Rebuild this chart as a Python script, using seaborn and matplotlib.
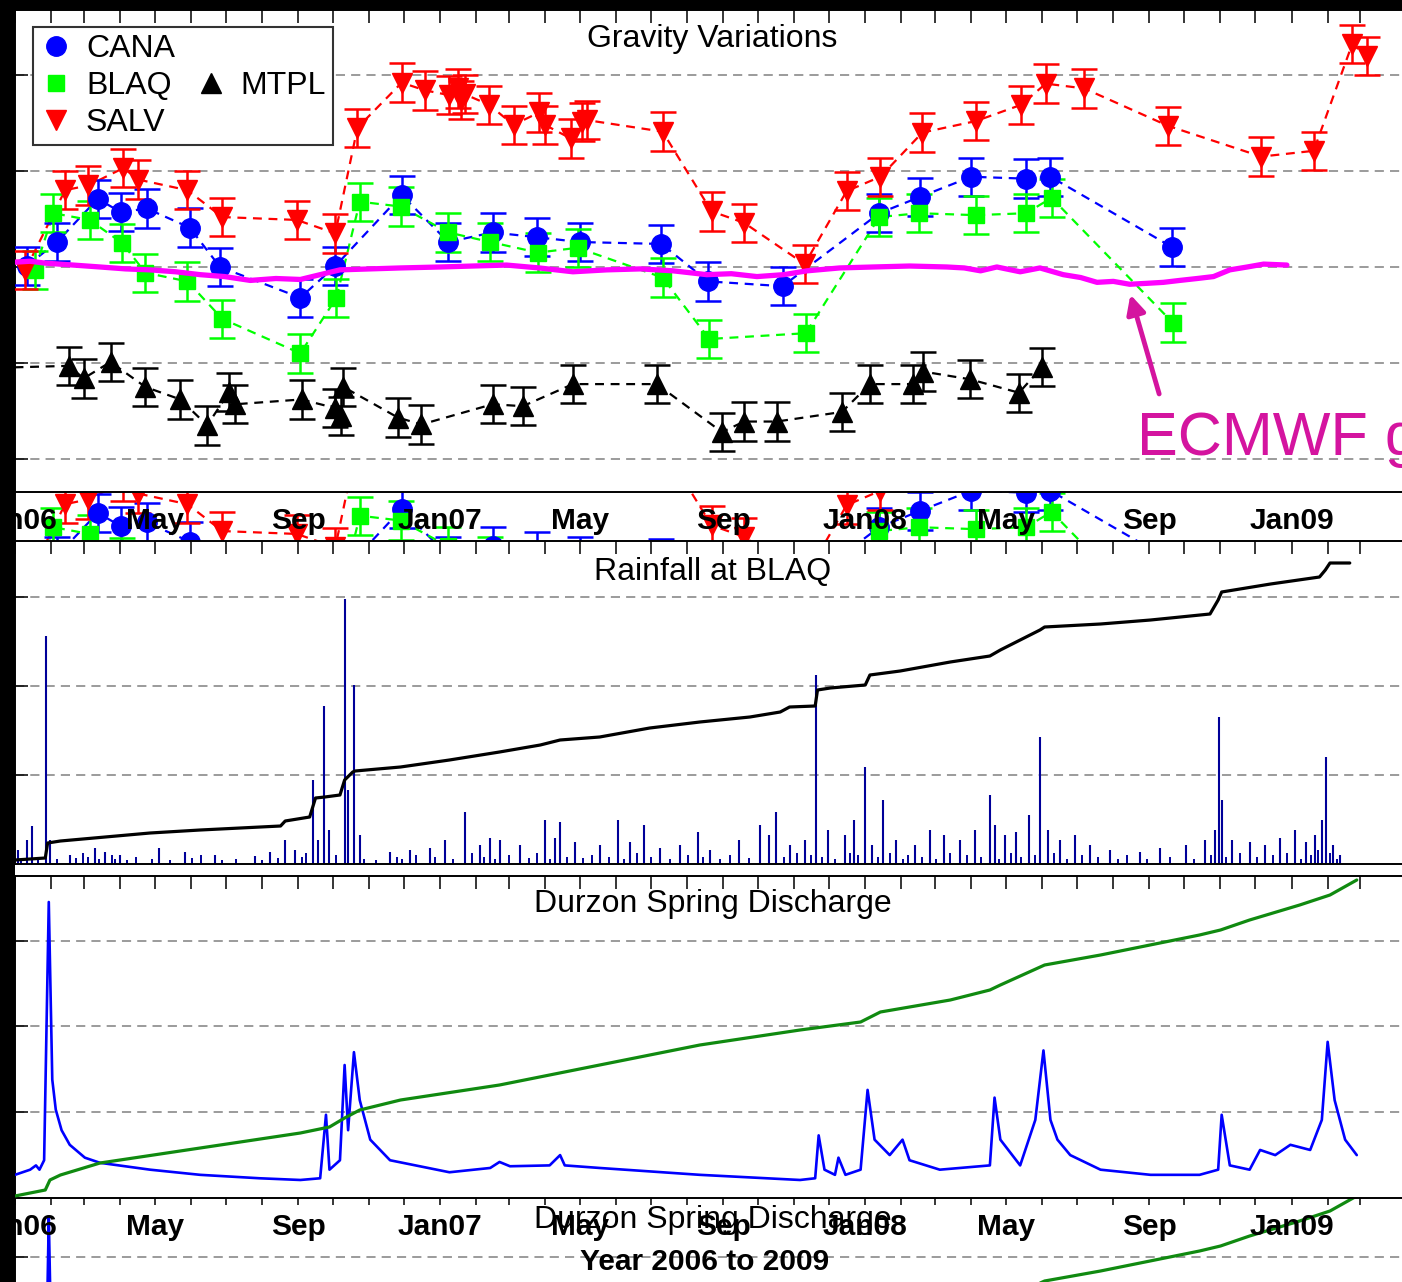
import numpy as np
import pandas as pd
import matplotlib
matplotlib.use('Agg')
import matplotlib.pyplot as plt
import matplotlib.patches as mpatches
from matplotlib.lines import Line2D
import seaborn as sns

sns.set_style('white')
plt.rcParams['font.family'] = ['Liberation Sans', 'DejaVu Sans']
plt.rcParams['text.color'] = 'black'

# time axis: days since 2006-01-01

# gravity (microGal)
cana_day = [10, 36, 71, 91, 113, 150, 176, 245, 275, 332, 372, 410, 448, 485, 555, 595, 659, 742, 777, 821, 868, 889, 993]
cana_val = [0.1, 2.6, 7.1, 5.7, 6.1, 4.1, 0.0, -3.2, 0.1, 7.5, 2.6, 3.6, 3.1, 2.6, 2.4, -1.5, -2.0, 5.6, 7.3, 9.4, 9.2, 9.4, 2.1]

blaq_day = [17, 33, 64, 92, 112, 148, 178, 245, 276, 296, 331, 372, 408, 449, 483, 556, 596, 679, 742, 776, 825, 868, 890, 994]
blaq_val = [-0.3, 5.6, 4.9, 2.5, -0.6, -1.5, -5.4, -9.0, -3.2, 6.8, 6.3, 3.6, 2.6, 1.5, 2.0, -1.1, -7.5, -6.9, 5.2, 5.6, 5.4, 5.6, 7.2, -5.8]

mtpl_day = [-15, 46, 59, 82, 112, 142, 165, 184, 189, 246, 275, 280, 282, 329, 349, 410, 436, 479, 551, 607, 626, 654, 710, 734, 771, 780, 820, 862, 882]
mtpl_val = [-10.5, -10.3, -11.6, -9.9, -12.5, -13.8, -16.5, -13.0, -14.3, -13.8, -14.7, -15.5, -12.5, -15.7, -16.4, -14.3, -14.5, -12.2, -12.2, -17.2, -16.1, -16.1, -15.1, -12.2, -12.2, -10.9, -11.7, -13.1, -10.4]

salv_day = [9, 43, 63, 93, 106, 148, 178, 242, 275, 294, 332, 352, 373, 380, 383, 386, 407, 428, 450, 455, 477, 487, 491, 556, 598, 626, 678, 714, 743, 779, 825, 864, 885, 918, 990, 1070, 1115, 1148, 1161]
salv_val = [-0.3, 8.0, 8.5, 10.3, 9.1, 8.0, 5.2, 4.9, 3.5, 14.5, 19.2, 18.4, 17.9, 18.6, 17.4, 18.0, 16.9, 14.8, 16.1, 14.8, 13.4, 15.1, 15.3, 14.1, 5.8, 4.6, 0.3, 7.9, 9.4, 14.0, 15.2, 16.9, 19.1, 18.6, 14.7, 11.5, 12.1, 23.2, 22.0]
grav_err = 2.0

ecmwf_day = [0, 13, 26, 50, 73, 95, 116, 138, 159, 180, 202, 224, 245, 262, 279, 305, 331, 365, 393, 422, 450, 479, 508, 537, 565, 594, 615, 637, 660, 680, 708, 737, 768, 800, 815, 829, 843, 855, 863, 880, 900, 915, 929, 943, 957, 972, 986, 1000, 1015, 1029, 1043, 1058, 1072, 1092]
ecmwf_val = [0.5, 0.6, 0.4, 0.2, 0.0, -0.2, -0.3, -0.5, -0.8, -1.0, -1.4, -1.2, -1.3, -0.8, -0.3, -0.2, -0.1, 0.0, 0.1, 0.2, -0.1, -0.5, -0.3, -0.2, -0.4, -0.8, -0.7, -1.0, -0.8, -0.4, -0.1, 0.0, 0.1, 0.0, -0.1, -0.4, 0.0, -0.3, -0.5, -0.1, -0.8, -1.1, -1.6, -1.5, -1.8, -1.7, -1.6, -1.4, -1.2, -1.0, -0.3, 0.0, 0.3, 0.2]

# rainfall at BLAQ (mm/day) and cumulative rainfall (mm)
rain_day = [3, 10, 15, 27, 30, 47, 69, 77, 90, 124, 146, 172, 206, 219, 232, 240, 256, 260, 265, 270,
            283, 286, 291, 296, 322, 339, 356, 369, 386, 399, 408, 416, 434, 455, 464, 468, 481, 502, 518, 528,
            540, 554, 571, 586, 597, 622, 640, 647, 653, 665, 678, 688, 698, 713, 720, 730, 736, 745, 756, 773,
            786, 798, 811, 824, 837, 841, 850, 859, 871, 880, 887, 897, 910, 923, 940, 966, 983, 1005, 1022, 1030,
            1034, 1036, 1045, 1060, 1073, 1086, 1099, 1108, 1116, 1122, 1126, 1132, 1138]
rain_mm = [7.9, 13.5, 21.4, 128, 13.5, 5, 9, 6.7, 5, 9, 6.7, 5, 4.5, 6.7, 13.5, 7.9, 47, 13.5, 89, 19,
           149, 41.6, 100.6, 16.3, 6.7, 7.9, 9, 13.5, 29, 10.7, 14.6, 13.5, 10.7, 24.7, 14.6, 23.6, 12.4, 10.7, 24.7, 12.4,
           21.9, 9, 10.7, 18, 7.9, 13.5, 21.9, 16.3, 29.2, 10.7, 13.5, 106, 19, 16.3, 24.7, 54.5, 10.7, 36, 13.5, 10.7,
           19, 16.3, 13.5, 19, 38.8, 21.9, 16.3, 18, 27.5, 71.4, 19, 13.5, 16.3, 10.7, 7.9, 6.7, 9, 10.7, 13.5, 19,
           82.6, 36, 13.5, 12.4, 10.7, 14.6, 19, 12.4, 16.3, 24.7, 60, 10.7, 5]
# the many small showers along the base line
small_day = [5, 20, 36, 52, 58, 63, 72, 83, 86, 96, 104, 118, 133, 152, 160, 178, 190, 212, 226, 246,
             250, 276, 300, 310, 328, 332, 344, 361, 376, 392, 403, 412, 424, 441, 448, 459, 474, 488, 495, 510,
             523, 534, 546, 562, 578, 591, 605, 614, 630, 660, 671, 683, 693, 704, 717, 724, 741, 751, 762, 767,
             779, 791, 803, 817, 829, 845, 855, 864, 876, 892, 903, 916, 930, 947, 955, 972, 992, 1012, 1027, 1040,
             1052, 1066, 1080, 1092, 1104, 1113, 1119, 1129, 1135]
small_mm = [2.5, 4, 3, 3.5, 6, 4, 3, 5, 3, 2.5, 4, 3, 2.5, 3.5, 5, 2.5, 3, 2.5, 3.5, 4,
            6, 5, 3, 2.5, 4, 3, 5, 4, 3, 6, 4, 3, 5, 3.5, 6, 3, 4, 3.5, 5, 4,
            3, 6, 4, 3, 5, 4, 3, 5, 3.5, 4, 6, 5, 4, 3, 6, 5, 4, 6, 3, 5,
            4, 3, 6, 5, 4, 3, 6, 4, 5, 6, 3, 5, 4, 3, 5, 3, 4, 3, 5, 4,
            6, 4, 5, 6, 3, 5, 8, 6, 3]

cum_day = [0, 26, 28, 39, 116, 159, 228, 232, 253, 258, 266, 279, 283, 290, 292, 331, 373, 416, 451, 468,
           502, 545, 588, 631, 657, 665, 687, 689, 700, 730, 734, 760, 803, 837, 846, 880, 884, 932, 975, 1026,
           1033, 1036, 1078, 1120, 1125, 1129, 1146]
cum_mm = [40, 60, 210, 230, 310, 340, 380, 430, 470, 660, 670, 690, 840, 920, 930, 970, 1040, 1120, 1190, 1240,
          1270, 1360, 1420, 1470, 1520, 1570, 1580, 1740, 1760, 1790, 1890, 1930, 2020, 2080, 2140, 2340, 2370, 2400, 2440, 2500,
          2640, 2720, 2800, 2870, 2940, 3010, 3010]

# Durzon spring discharge (m3/s) and cumulative volume
q_day = [0, 13, 18, 21, 25, 29, 32, 35, 40, 47, 60, 73, 116, 159, 210, 245, 262, 267, 270, 279,
         283, 286, 291, 296, 305, 322, 373, 408, 416, 425, 459, 468, 472, 502, 588, 674, 687, 690, 695, 704,
         707, 713, 726, 732, 738, 751, 762, 768, 794, 837, 841, 846, 863, 876, 883, 889, 895, 906, 932, 975, 1017,
         1033, 1036, 1043, 1060, 1069, 1082, 1095, 1112, 1122, 1127, 1133, 1142, 1152]
q_val = [0.27, 0.33, 0.38, 0.33, 0.44, 3.45, 1.38, 1.03, 0.79, 0.62, 0.47, 0.41, 0.33, 0.27, 0.23, 0.21, 0.23, 0.97, 0.33, 0.44,
         1.55, 0.79, 1.70, 1.14, 0.68, 0.44, 0.30, 0.35, 0.42, 0.37, 0.38, 0.50, 0.38, 0.35, 0.27, 0.21, 0.23, 0.73, 0.33, 0.27,
         0.47, 0.27, 0.33, 1.26, 0.68, 0.50, 0.68, 0.44, 0.33, 0.38, 1.17, 0.68, 0.38, 0.91, 1.72, 0.91, 0.68, 0.50, 0.33, 0.27, 0.27,
         0.33, 0.97, 0.38, 0.33, 0.56, 0.50, 0.62, 0.56, 0.91, 1.82, 1.14, 0.68, 0.50]

qc_day = [0, 26, 30, 39, 73, 159, 245, 270, 283, 296, 331, 416, 502, 588, 674, 726, 743, 803, 837, 846,
          884, 932, 1017, 1035, 1060, 1103, 1129, 1152]
qc_val = [0.2, 0.8, 1.8, 2.3, 3.5, 5.0, 6.5, 7.1, 8.0, 8.8, 9.8, 11.3, 13.3, 15.3, 16.8, 17.6, 18.6, 19.8, 20.8, 21.3,
          23.3, 24.3, 26.3, 26.8, 27.8, 29.3, 30.3, 31.8]

start = pd.Timestamp('2006-01-01')
months = pd.date_range('2006-01-01', '2009-03-01', freq='MS')
tick_days = list((months - start).days)
tick_labels = [m.strftime('%b%y') if m.month == 1 else (m.strftime('%b') if m.month in (5, 9) else '') for m in months]

W, H = 1402, 1282
fig = plt.figure(figsize=(W / 100, H / 100), dpi=100, facecolor='white')
MAG = '#d4149f'


def px_axes(top, bottom, z):
    ax = fig.add_axes([15 / W, 1 - bottom / H, (1410 - 15) / W, (bottom - top) / H])
    ax.set_zorder(z)
    return ax


def style(ax, ylim, grid_vals, labels=True):
    ax.set_xlim(0, 1197.7)
    ax.set_ylim(*ylim)
    ax.set_xticks(tick_days)
    ax.set_xticklabels(tick_labels)
    ax.set_yticks(grid_vals)
    ax.tick_params(direction='in', length=9, width=1.1, top=True, right=False, left=True,
                   labelleft=False, labelbottom=labels, labelsize=21.5, pad=11, colors='black')
    for lab in ax.get_xticklabels():
        lab.set_fontweight('bold')
    ax.grid(axis='y', color='#808080', lw=1.1, linestyle=(0, (6, 4)))
    ax.set_axisbelow(True)
    for s in ax.spines.values():
        s.set_linewidth(1.4)
        s.set_color('black')


def twin(ax, ylim, z):
    t = ax.twinx()
    t.set_zorder(z)
    t.set_ylim(*ylim)
    t.tick_params(left=False, right=False, labelright=False, labelleft=False)
    for s in t.spines.values():
        s.set_visible(False)
    t.patch.set_visible(False)
    return t


def draw_gravity(ax):
    stations = [(cana_day, cana_val, 'o', '#0000ff', 14),
                (blaq_day, blaq_val, 's', '#00ff00', 12),
                (mtpl_day, mtpl_val, '^', 'black', 14),
                (salv_day, salv_val, 'v', '#ff0000', 14)]
    for d, v, m, c, ms in stations:
        sns.lineplot(x=d, y=v, ax=ax, color=c, lw=1.6, linestyle=(0, (4, 3)),
                     estimator=None, sort=False, zorder=2)
        ax.errorbar(d, v, yerr=grav_err, fmt=m, color=c, ms=ms, mec=c, mfc=c,
                    elinewidth=1.8, capsize=9.5, capthick=1.8, zorder=3)
    sns.lineplot(x=ecmwf_day, y=ecmwf_val, ax=ax, color='#ff00ff', lw=3.8,
                 estimator=None, sort=False, zorder=4)
    style(ax, (-23.44, 26.77), [-20, -10, 0, 10, 20])
    ax.text(0.5, 0.94, 'Gravity Variations', transform=ax.transAxes,
            ha='center', va='center', fontsize=23)


def draw_discharge(ax, z):
    sns.lineplot(x=q_day, y=q_val, ax=ax, color='#0000ff', lw=1.9,
                 estimator=None, sort=False, zorder=3)
    style(ax, (0, 3.753), [1, 2, 3])
    ax.text(0.5, 0.913, 'Durzon Spring Discharge', transform=ax.transAxes,
            ha='center', va='center', fontsize=23)
    t = twin(ax, (0, 32.2), z + 0.5)
    sns.lineplot(x=qc_day, y=qc_val, ax=t, color='#108a10', lw=2.3,
                 estimator=None, sort=False)
    t.set_ylim(0, 32.2)
    t.set_ylabel('')


# ghost copies peeking through the gaps between panels
ghost_g = px_axes(324, 806, 0)
draw_gravity(ghost_g)
ghost_g.tick_params(labelbottom=False)

ghost_q = px_axes(1192, 1514, 0)
draw_discharge(ghost_q, 0)
ghost_q.tick_params(labelbottom=False)

# gravity panel
ax1 = px_axes(10, 492, 1)
draw_gravity(ax1)
handles = [Line2D([], [], ls='', marker='o', color='#0000ff', ms=14),
           Line2D([], [], ls='', marker='s', color='#00ff00', ms=12),
           Line2D([], [], ls='', marker='v', color='#ff0000', ms=14),
           Line2D([], [], ls='', marker=''),
           Line2D([], [], ls='', marker='^', color='black', ms=14),
           Line2D([], [], ls='', marker='')]
leg = ax1.legend(handles, ['CANA', 'BLAQ', 'SALV', '', 'MTPL', ''], ncol=2, loc='upper left',
                 bbox_to_anchor=(0.0129, 0.9647), borderaxespad=0, frameon=True, fancybox=False,
                 fontsize=23, handlelength=1.0, handletextpad=0.44, columnspacing=0.62,
                 labelspacing=0.22, borderpad=0.22, framealpha=1)
leg.get_frame().set_edgecolor('#333333')
leg.get_frame().set_linewidth(1.5)
ax1.annotate('', xy=(957, -2.6), xytext=(983, -13.5),
             arrowprops=dict(arrowstyle='-|>', color=MAG, lw=3.5, mutation_scale=28))
ax1.text(963, -19.6, 'ECMWF g', color=MAG, fontsize=44, va='baseline', ha='left')

# rainfall panel
ax2 = px_axes(541, 864, 1)
ax2.vlines(small_day, 0, small_mm, color='#000099', lw=1.4)
ax2.vlines(rain_day, 0, rain_mm, color='#000099', lw=1.5)
style(ax2, (0, 181.5), [50, 100, 150], labels=False)
ax2.text(0.5, 0.904, 'Rainfall at BLAQ', transform=ax2.transAxes,
         ha='center', va='center', fontsize=23)
t2 = twin(ax2, (0, 3230), 1.5)
sns.lineplot(x=cum_day, y=cum_mm, ax=t2, color='black', lw=2.3, estimator=None, sort=False)
t2.set_ylim(0, 3230)
t2.set_ylabel('')

# discharge panel
ax3 = px_axes(876, 1198, 1)
draw_discharge(ax3, 1)
ax3.text(0.4946, -0.198, 'Year 2006 to 2009', transform=ax3.transAxes,
         ha='center', va='center', fontsize=21.5, fontweight='bold', color='black')

# black borders of the screenshot
fig.add_artist(mpatches.Rectangle((0, 0), 15 / W, 1, transform=fig.transFigure,
                                  facecolor='black', edgecolor='none', zorder=10))
fig.add_artist(mpatches.Rectangle((0, 1 - 10 / H), 1, 10 / H, transform=fig.transFigure,
                                  facecolor='black', edgecolor='none', zorder=10))

fig.savefig('out.png', dpi=100, facecolor='white')
